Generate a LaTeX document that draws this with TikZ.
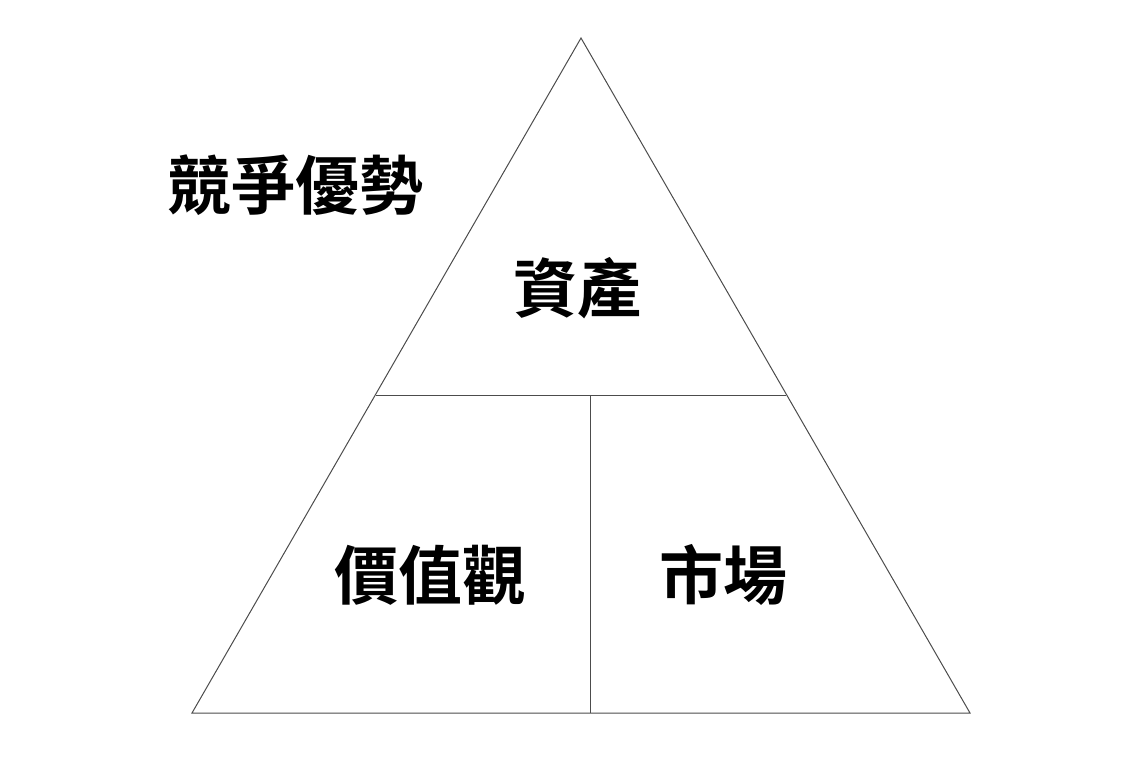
\documentclass[tikz,border=0pt]{standalone}
\usepackage{fontspec}
\newfontfamily\cjk{Noto Sans CJK TC}[BoldFont={Noto Sans CJK TC Bold}]
\begin{document}
\begin{tikzpicture}[x=1pt,y=-1pt,
  lab/.style={font=\cjk\bfseries\fontsize{64}{70}\selectfont, inner sep=0pt},
  edge/.style={draw=black!70, line width=1pt}]
\useasboundingbox (0,0) rectangle (1134,774);
\coordinate (A) at (581,38);
\coordinate (L) at (192,713);
\coordinate (R) at (970,713);
\coordinate (ML) at (376,395);
\coordinate (MR) at (786,395);
\coordinate (MT) at (590,395);
\coordinate (MB) at (590,713);
\draw[edge] (A) -- (L) -- (R) -- cycle;
\draw[edge] (ML) -- (MR);
\draw[edge] (MT) -- (MB);
\node[lab] (t1) at (295,185) {競爭優勢};
\node[lab] (t2) at (577,288) {資產};
\node[lab] (t3) at (430,575) {價值觀};
\node[lab] (t4) at (723,575) {市場};
\end{tikzpicture}
\end{document}
